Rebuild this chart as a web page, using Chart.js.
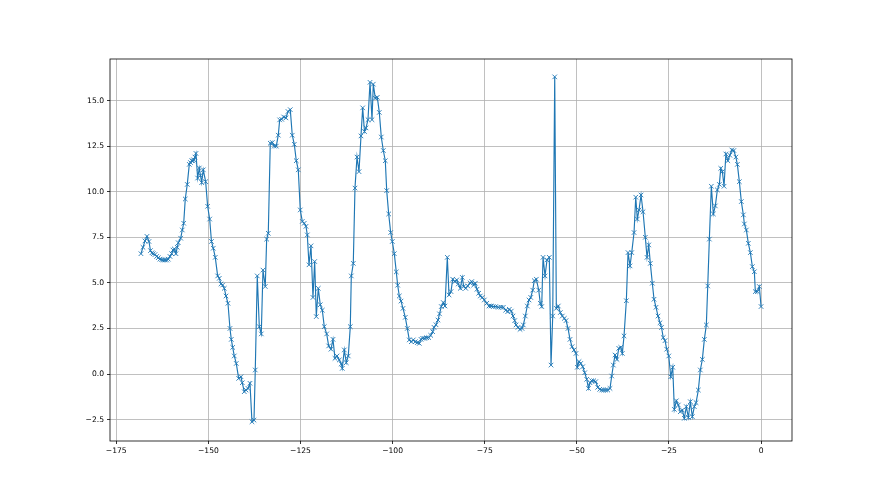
<!DOCTYPE html>
<html>
<head>
<meta charset="utf-8">
<script src="https://cdn.jsdelivr.net/npm/chart.js@4.4.0/dist/chart.umd.min.js"></script>
<style>
html,body{margin:0;padding:0;background:#fff;}
canvas{display:block;}
</style>
</head>
<body>
<canvas id="c" width="880" height="495"></canvas>
<script>
const xValues = [
-168.30,-167.75,-167.21,-166.67,-166.12,-165.72,-165.31,-164.96,-164.50,-164.04,
-163.60,-163.14,-162.68,-162.24,-161.78,-161.32,-160.89,-160.43,-159.96,-159.61,
-159.26,-158.80,-158.45,-158.17,-157.52,-157.08,-156.70,-156.27,-155.73,-155.18,
-154.86,-154.53,-154.18,-153.91,-153.64,-153.37,-152.91,-152.47,-152.15,-151.82,
-151.39,-150.74,-150.20,-149.65,-149.16,-148.67,-148.13,-147.48,-147.04,-146.58,
-146.12,-145.68,-145.22,-144.68,-144.14,-143.78,-143.40,-142.97,-142.43,-141.78,
-141.15,-140.80,-140.26,-139.79,-139.25,-138.71,-138.17,-137.62,-137.27,-136.73,
-136.18,-135.64,-135.18,-134.56,-134.18,-133.74,-133.20,-132.65,-132.11,-131.57,
-131.03,-130.65,-130.10,-129.56,-128.94,-128.39,-127.77,-127.23,-126.68,-126.14,
-125.60,-125.06,-124.51,-123.97,-123.51,-123.15,-122.69,-122.15,-121.61,-121.15,
-120.71,-120.17,-119.63,-119.08,-118.54,-117.89,-117.35,-116.72,-116.18,-115.64,
-115.09,-114.47,-113.93,-113.66,-113.11,-112.57,-112.03,-111.48,-111.21,-110.67,
-110.21,-109.66,-109.12,-108.58,-108.12,-107.63,-107.22,-106.68,-106.13,-105.59,
-105.24,-104.70,-104.15,-103.61,-103.07,-102.52,-101.98,-101.60,-101.06,-100.52,
-100.08,-99.54,-99.00,-98.62,-98.18,-97.72,-97.18,-96.55,-96.01,-95.47,
-94.92,-94.38,-93.84,-93.30,-92.75,-92.29,-91.83,-91.29,-90.74,-90.20,
-89.66,-89.12,-88.76,-88.22,-87.68,-87.27,-86.78,-86.24,-85.78,-85.15,
-84.69,-84.15,-83.69,-83.14,-82.60,-82.17,-81.62,-81.08,-80.70,-80.16,
-79.61,-78.99,-78.53,-77.99,-77.55,-77.09,-76.63,-76.19,-75.65,-75.11,
-74.46,-73.83,-73.29,-72.67,-72.01,-71.31,-70.58,-69.95,-69.30,-68.76,
-68.32,-67.78,-67.32,-66.86,-66.50,-65.96,-65.42,-64.88,-64.52,-63.98,
-63.44,-62.97,-62.51,-61.97,-61.54,-60.99,-60.34,-59.91,-59.53,-59.17,
-58.63,-58.09,-57.47,-57.00,-56.54,-56.00,-55.56,-55.02,-54.48,-53.94,
-53.39,-52.93,-52.39,-51.85,-51.30,-50.76,-50.22,-49.86,-49.40,-48.94,
-48.40,-47.86,-47.31,-46.83,-46.42,-45.96,-45.41,-44.87,-44.33,-43.78,
-43.24,-42.70,-42.16,-41.61,-40.99,-40.53,-40.09,-39.63,-39.09,-38.63,
-38.08,-37.65,-37.19,-36.56,-36.10,-35.56,-35.10,-34.47,-34.01,-33.58,
-33.12,-32.57,-32.03,-31.41,-30.95,-30.48,-30.05,-29.51,-29.05,-28.50,
-27.96,-27.42,-27.01,-26.55,-26.06,-25.60,-25.05,-24.51,-23.97,-23.53,
-22.99,-22.45,-21.91,-21.36,-20.82,-20.28,-19.73,-19.19,-18.65,-18.11,
-17.64,-17.02,-16.48,-15.93,-15.39,-14.85,-14.47,-14.03,-13.49,-12.95,
-12.41,-11.86,-11.32,-10.94,-10.50,-10.04,-9.55,-9.01,-8.47,-7.93,
-7.38,-6.84,-6.43,-5.89,-5.35,-4.80,-4.53,-3.99,-3.45,-2.90,
-2.36,-1.82,-1.55,-1.00,-0.46,0.00
];
const yValues = [
6.60,6.95,7.30,7.55,7.27,6.77,6.65,6.60,6.55,6.45,
6.38,6.30,6.27,6.25,6.26,6.25,6.30,6.45,6.60,6.80,
6.86,6.60,6.95,7.20,7.45,7.90,8.27,9.60,10.40,11.50,
11.60,11.70,11.70,11.75,11.90,12.10,10.75,11.30,10.90,10.50,
11.20,10.55,9.20,8.50,7.27,6.90,6.40,5.38,5.25,4.94,
4.88,4.70,4.28,3.88,2.50,1.90,1.46,0.99,0.58,-0.24,
-0.15,-0.48,-0.97,-0.88,-0.79,-0.51,-2.62,-2.53,0.22,5.38,
2.60,2.20,5.70,4.80,7.40,7.72,12.66,12.70,12.50,12.50,
13.10,13.94,13.97,14.10,14.05,14.40,14.50,13.10,12.60,11.70,
11.20,9.00,8.37,8.27,8.10,7.63,5.99,7.03,4.20,6.17,
3.15,4.70,3.80,3.50,2.60,2.20,1.54,1.36,1.90,0.86,
0.99,0.77,0.55,0.31,1.32,0.62,0.99,2.60,5.38,6.07,
10.20,11.90,11.10,13.06,14.60,13.30,13.50,13.95,16.00,13.95,
15.90,15.13,15.18,14.35,13.00,12.26,11.70,10.06,8.78,7.76,
7.27,6.60,5.60,4.87,4.28,4.00,3.60,3.11,2.50,1.87,
1.77,1.87,1.77,1.72,1.68,1.90,1.96,1.96,1.99,2.00,
2.12,2.32,2.56,2.70,2.96,3.30,3.70,3.92,3.73,6.40,
4.34,4.52,5.20,5.07,5.16,4.94,4.70,5.30,4.80,4.70,
4.83,5.00,5.07,4.88,4.98,4.65,4.43,4.28,4.20,4.06,
3.88,3.73,3.73,3.70,3.70,3.66,3.66,3.66,3.50,3.42,
3.55,3.45,3.18,2.93,2.69,2.56,2.45,2.50,2.69,3.18,
3.73,4.06,4.20,4.60,5.12,5.20,4.60,3.88,3.70,6.40,
5.38,6.26,6.40,0.49,3.18,16.30,3.60,3.73,3.37,3.18,
3.05,2.93,2.50,1.90,1.50,1.32,1.13,0.37,0.68,0.58,
0.40,0.07,-0.29,-0.79,-0.48,-0.37,-0.37,-0.42,-0.73,-0.84,
-0.88,-0.88,-0.88,-0.88,-0.79,-0.11,0.49,1.04,0.80,1.41,
1.46,1.13,2.09,4.02,6.66,5.93,6.66,7.76,9.70,8.50,
9.00,9.82,8.90,7.50,6.40,7.08,6.07,4.98,4.10,3.66,
3.18,2.81,2.55,2.00,1.83,1.36,0.99,-0.15,0.37,-1.94,
-1.47,-1.70,-2.07,-1.98,-2.43,-1.79,-2.38,-1.52,-2.34,-1.79,
-1.57,-0.88,0.22,0.80,1.90,2.69,4.83,7.40,10.30,8.78,
9.22,10.10,10.40,11.28,11.10,10.30,12.07,11.70,12.00,12.29,
12.26,11.90,11.50,10.55,9.46,8.73,8.23,7.90,7.17,6.66,
5.89,5.61,4.52,4.52,4.80,3.70
];
const xTicks = [-175, -150, -125, -100, -75, -50, -25, 0];
const yTicks = [-2.5, 0.0, 2.5, 5.0, 7.5, 10.0, 12.5, 15.0];

const points = xValues.map((x, i) => ({ x: x, y: yValues[i] }));
const minus = v => (v < 0 ? '\u2212' : '');

const frame = {
  id: 'frame',
  afterDatasetsDraw(chart) {
    const a = chart.chartArea, ctx = chart.ctx;
    ctx.save();
    ctx.strokeStyle = '#000';
    ctx.lineWidth = 0.8;
    ctx.strokeRect(a.left, a.top, a.right - a.left, a.bottom - a.top);
    ctx.restore();
  }
};

new Chart(document.getElementById('c'), {
  type: 'line',
  data: {
    datasets: [{
      data: points,
      borderColor: '#1f77b4',
      borderWidth: 1.15,
      pointStyle: 'crossRot',
      pointRadius: 3.2,
      pointHoverRadius: 3.2,
      pointBorderColor: '#1f77b4',
      pointBackgroundColor: '#1f77b4',
      pointBorderWidth: 0.9,
      tension: 0,
      fill: false
    }]
  },
  options: {
    responsive: false,
    animation: false,
    devicePixelRatio: 1,
    layout: { padding: { left: 0, right: 88, top: 59, bottom: 0 } },
    plugins: { legend: { display: false }, tooltip: { enabled: false } },
    scales: {
      x: {
        type: 'linear',
        min: -176.7,
        max: 8.4,
        afterFit(s) { s.height = 54; },
        afterBuildTicks(s) { s.ticks = xTicks.map(v => ({ value: v })); },
        border: { display: false },
        grid: { color: '#b0b0b0', lineWidth: 0.8, tickColor: '#000', tickLength: 3, drawTicks: true },
        ticks: {
          color: '#000',
          padding: 2,
          maxRotation: 0,
          autoSkip: false,
          font: { family: 'DejaVu Sans', size: 7.6 },
          callback: v => minus(v) + Math.abs(v)
        }
      },
      y: {
        type: 'linear',
        min: -3.675,
        max: 17.28,
        afterFit(s) { s.width = 110; },
        afterBuildTicks(s) { s.ticks = yTicks.map(v => ({ value: v })); },
        border: { display: false },
        grid: { color: '#b0b0b0', lineWidth: 0.8, tickColor: '#000', tickLength: 3, drawTicks: true },
        ticks: {
          color: '#000',
          padding: 3,
          autoSkip: false,
          font: { family: 'DejaVu Sans', size: 7.6 },
          callback: v => minus(v) + Math.abs(v).toFixed(1)
        }
      }
    }
  },
  plugins: [frame]
});
</script>
</body>
</html>
